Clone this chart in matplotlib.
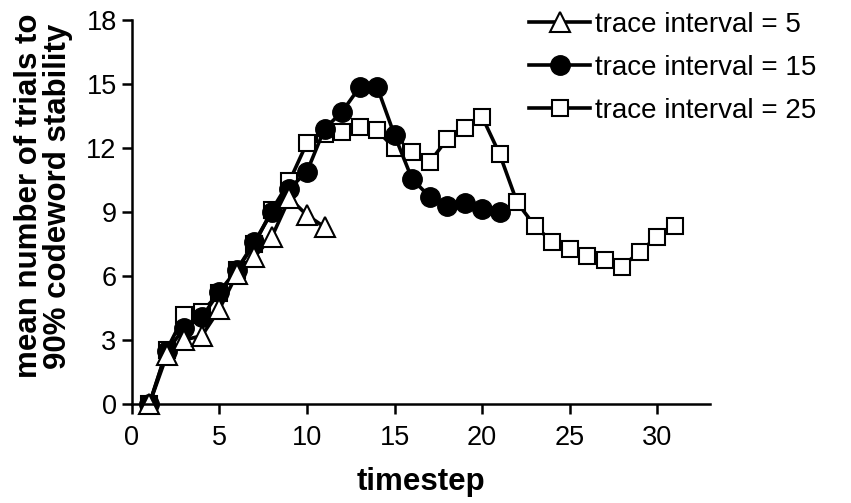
import matplotlib
matplotlib.use("Agg")
import matplotlib.pyplot as plt

plt.rcParams['font.family'] = ['Liberation Sans', 'DejaVu Sans']

# timestep values for each trace interval
x5 = [1, 2, 3, 4, 5, 6, 7, 8, 9, 10, 11]
y5 = [0, 2.3, 3.0, 3.2, 4.45, 6.1, 6.9, 7.85, 9.65, 8.85, 8.3]

x15 = list(range(1, 22))
y15 = [0, 2.5, 3.55, 4.07, 5.27, 6.3, 7.6, 9.0, 10.1, 10.9, 12.9, 13.7, 14.85, 14.88,
       12.6, 10.55, 9.72, 9.3, 9.4, 9.15, 9.0]

x25 = list(range(1, 32))
y25 = [0, 2.55, 4.17, 4.33, 5.2, 6.3, 7.5, 9.1, 10.45, 12.25, 12.66, 12.77, 13.0, 12.84,
       11.98, 11.83, 11.33, 12.42, 12.92, 13.47, 11.72, 9.45, 8.36, 7.6, 7.27, 6.95,
       6.75, 6.44, 7.14, 7.84, 8.36]

labels = ['trace interval = 5', 'trace interval = 15', 'trace interval = 25']
xticks = [0, 5, 10, 15, 20, 25, 30]
yticks = [0, 3, 6, 9, 12, 15, 18]

fig = plt.figure(figsize=(8.51, 5.03), dpi=100)
ax = fig.add_axes([0.155, 0.197, 0.679, 0.763])

lw = 2.6
# draw squares first so circles and triangles sit on top
hs, = ax.plot(x25, y25, color='black', lw=lw, marker='s', ms=12, mfc='white',
              mec='black', mew=1.5, clip_on=False)
hc, = ax.plot(x15, y15, color='black', lw=lw, marker='o', ms=14, mfc='black',
              mec='black', clip_on=False)
ht, = ax.plot(x5, y5, color='black', lw=lw, marker='^', ms=15, mfc='white',
              mec='black', mew=1.5, clip_on=False)

ax.set_xlim(0, 33)
ax.set_ylim(0, 18)
ax.set_xticks(xticks)
ax.set_yticks(yticks)
ax.spines['top'].set_visible(False)
ax.spines['right'].set_visible(False)
ax.spines['left'].set_linewidth(1.8)
ax.spines['bottom'].set_linewidth(1.8)
ax.tick_params(direction='out', length=7, width=1.8, labelsize=19.5)
ax.tick_params(axis='x', pad=8)
ax.tick_params(axis='y', pad=4)

ax.set_xlabel('timestep', fontsize=22.5, fontweight='bold', labelpad=12)
ax.set_ylabel('mean number of trials to\n90% codeword stability', fontsize=22.5,
              fontweight='bold', linespacing=0.95)
ax.yaxis.set_label_coords(-0.102, 0.542)

fig.legend([ht, hc, hs], labels, loc='upper left', bbox_to_anchor=(0.622, 0.977),
           frameon=False, fontsize=20, handlelength=2.2, handletextpad=0.15,
           labelspacing=0.62, borderpad=0, borderaxespad=0)

fig.savefig('out.png', dpi=100)
